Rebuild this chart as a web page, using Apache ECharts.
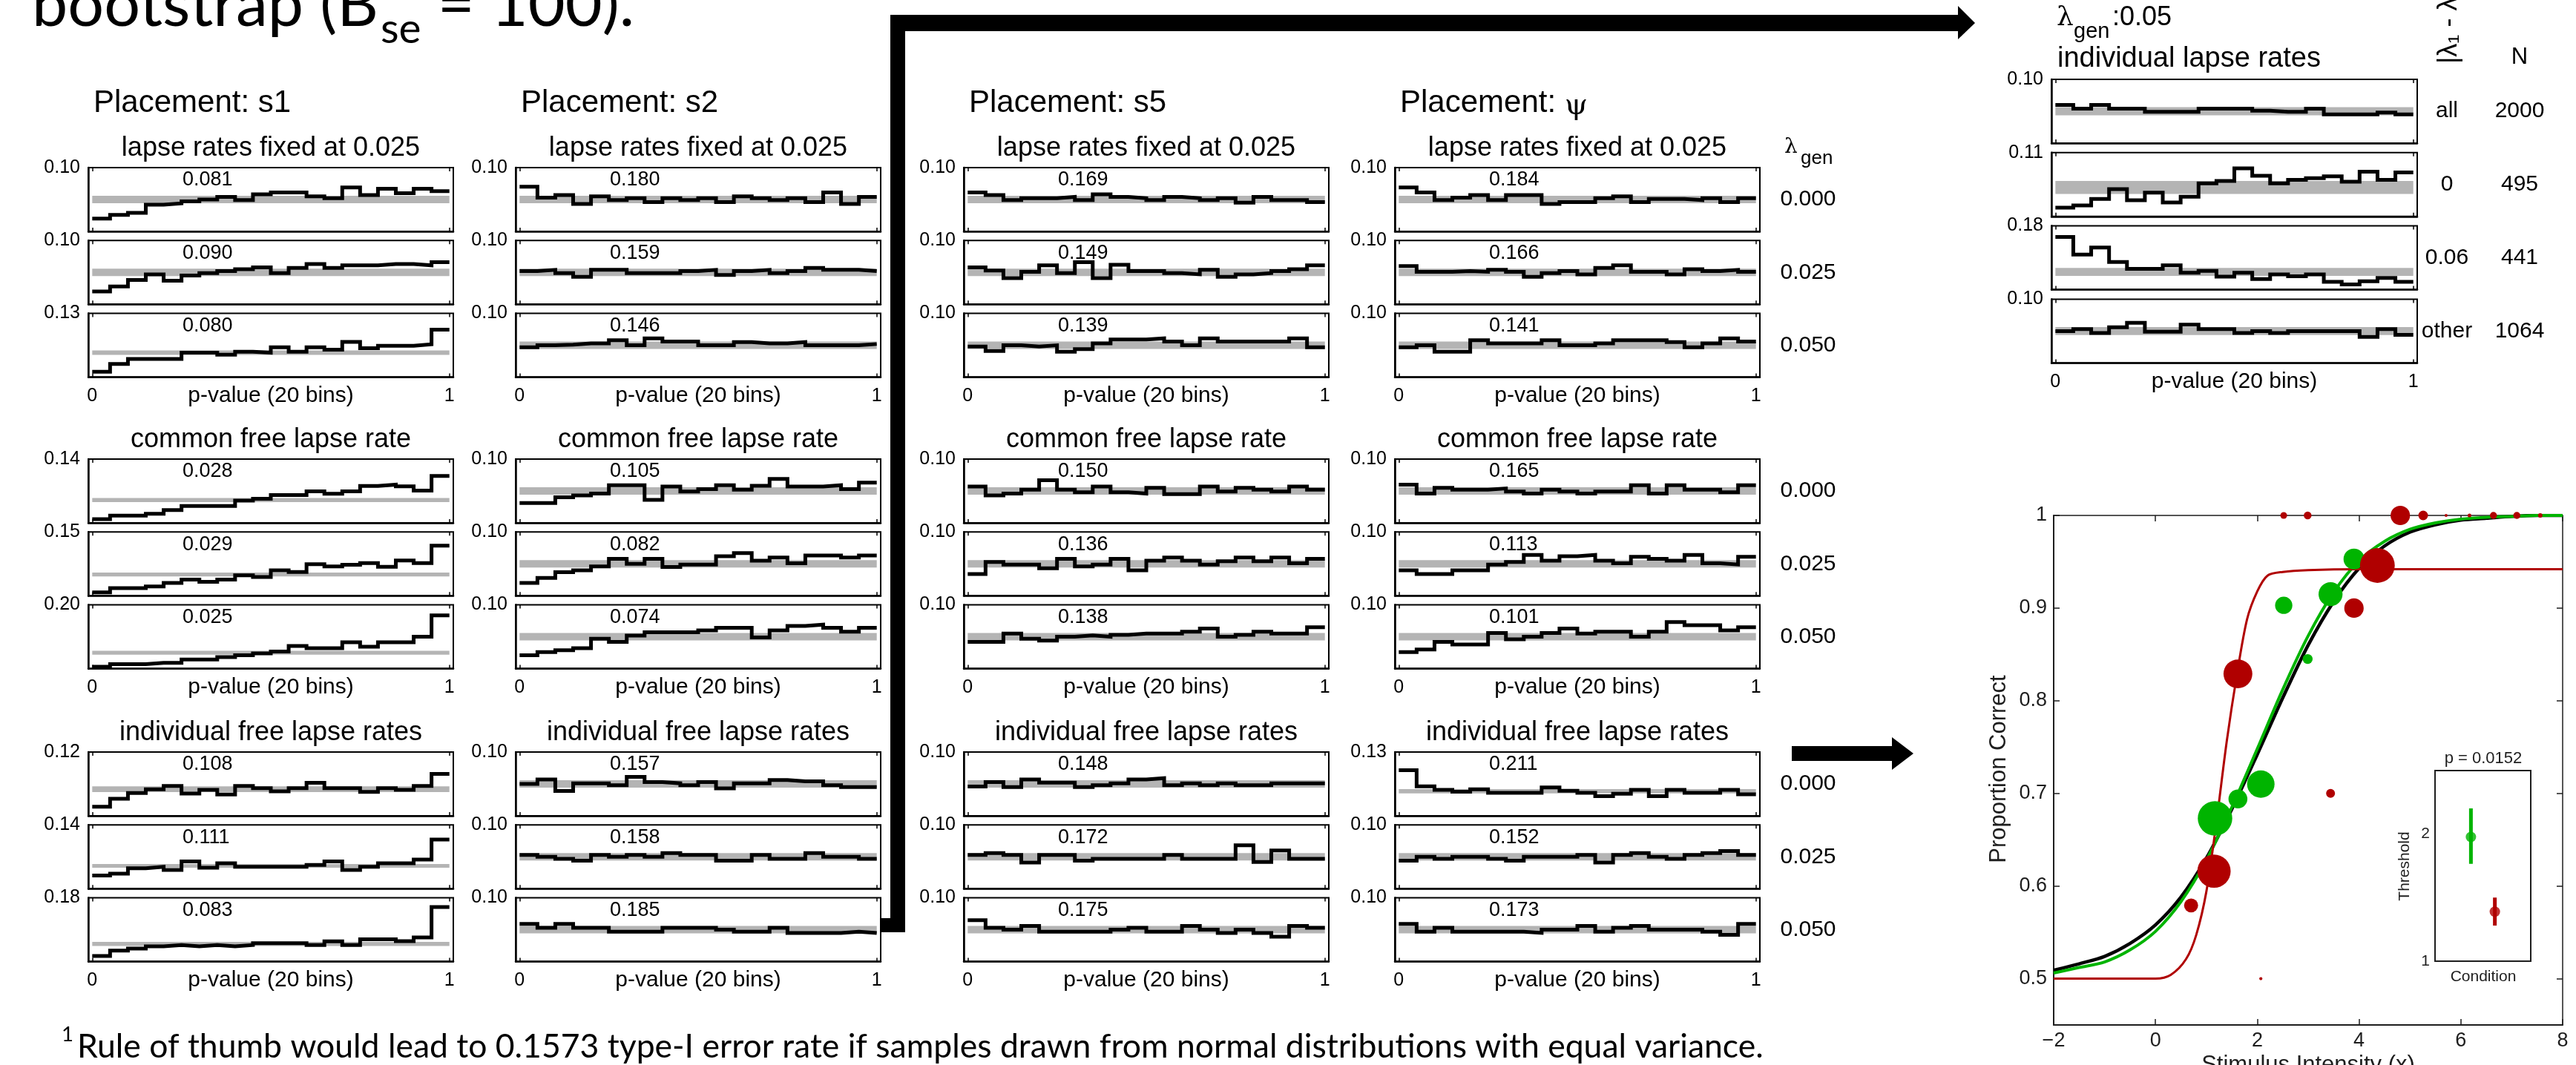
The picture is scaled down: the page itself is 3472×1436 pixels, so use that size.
<!DOCTYPE html>
<html>
<head>
<meta charset="utf-8">
<script src="https://cdn.jsdelivr.net/npm/echarts@6/dist/echarts.min.js"></script>
<style>
  html, body { margin: 0; padding: 0; background: #fff; }
  #main { width: 3472px; height: 1436px; }
</style>
</head>
<body>
<div id="main"></div>
<script>
// ---------------- data ----------------
const placements = ['s1', 's2', 's5', '\u03c8'];
const sectionTitles = ['lapse rates fixed at 0.025', 'common free lapse rate', 'individual free lapse rates'];
const lambdaGen = ['0.000', '0.025', '0.050'];
const expectedRate = 0.05; // 1/20 bins

// p-value histograms, 20 bins, rows = lambda_gen 0.000 / 0.025 / 0.050
const s1Fixed = [
  [0.020,0.026,0.029,0.042,0.044,0.047,0.050,0.054,0.049,0.058,0.061,0.061,0.055,0.052,0.069,0.057,0.067,0.060,0.067,0.063],
  [0.020,0.028,0.038,0.047,0.037,0.045,0.049,0.052,0.055,0.058,0.049,0.057,0.063,0.057,0.061,0.061,0.063,0.063,0.061,0.066],
  [0.011,0.027,0.037,0.037,0.037,0.050,0.050,0.046,0.052,0.050,0.061,0.052,0.061,0.056,0.072,0.059,0.064,0.064,0.067,0.097]
];
const s1Common = [
  [0.008,0.016,0.016,0.020,0.028,0.037,0.037,0.037,0.049,0.053,0.061,0.061,0.069,0.064,0.069,0.081,0.084,0.080,0.071,0.103],
  [0.008,0.018,0.018,0.022,0.030,0.038,0.033,0.038,0.048,0.044,0.060,0.056,0.074,0.069,0.073,0.077,0.068,0.083,0.077,0.118],
  [0.006,0.014,0.014,0.018,0.018,0.029,0.029,0.036,0.042,0.048,0.054,0.071,0.064,0.064,0.083,0.069,0.083,0.083,0.100,0.167]
];
const s1Indiv = [
  [0.017,0.032,0.043,0.050,0.056,0.042,0.049,0.040,0.056,0.052,0.046,0.052,0.062,0.052,0.052,0.045,0.052,0.049,0.056,0.079],
  [0.029,0.033,0.045,0.048,0.041,0.060,0.046,0.056,0.048,0.048,0.048,0.048,0.052,0.060,0.041,0.048,0.056,0.056,0.064,0.108],
  [0.016,0.031,0.037,0.043,0.047,0.043,0.047,0.043,0.047,0.052,0.052,0.052,0.047,0.057,0.047,0.063,0.063,0.058,0.068,0.154]
];
const s2Fixed = [
  [0.070,0.053,0.057,0.043,0.055,0.049,0.052,0.046,0.052,0.049,0.052,0.046,0.055,0.052,0.049,0.052,0.046,0.061,0.043,0.054],
  [0.052,0.054,0.049,0.043,0.054,0.054,0.049,0.049,0.049,0.052,0.054,0.046,0.052,0.054,0.049,0.052,0.057,0.054,0.054,0.052],
  [0.047,0.050,0.051,0.053,0.053,0.058,0.050,0.061,0.056,0.056,0.050,0.050,0.055,0.053,0.053,0.055,0.050,0.050,0.050,0.052]
];
const s2Common = [
  [0.031,0.031,0.040,0.043,0.046,0.059,0.059,0.036,0.057,0.049,0.053,0.059,0.052,0.058,0.069,0.057,0.057,0.059,0.053,0.063],
  [0.020,0.028,0.037,0.040,0.046,0.058,0.050,0.058,0.045,0.049,0.049,0.062,0.067,0.055,0.060,0.051,0.063,0.063,0.060,0.063],
  [0.021,0.026,0.029,0.032,0.047,0.042,0.052,0.057,0.057,0.057,0.060,0.064,0.064,0.049,0.060,0.067,0.069,0.064,0.058,0.064]
];
const s2Indiv = [
  [0.050,0.057,0.039,0.051,0.051,0.048,0.061,0.053,0.051,0.048,0.053,0.043,0.051,0.051,0.056,0.054,0.054,0.048,0.045,0.045],
  [0.053,0.050,0.047,0.044,0.053,0.050,0.053,0.050,0.056,0.053,0.053,0.044,0.044,0.053,0.047,0.047,0.056,0.050,0.050,0.047],
  [0.059,0.053,0.059,0.053,0.053,0.047,0.047,0.047,0.053,0.053,0.053,0.050,0.047,0.047,0.053,0.045,0.045,0.045,0.047,0.045]
];
const s5Fixed = [
  [0.061,0.057,0.049,0.052,0.052,0.054,0.049,0.058,0.054,0.052,0.049,0.054,0.052,0.049,0.052,0.045,0.054,0.049,0.049,0.046],
  [0.058,0.053,0.041,0.051,0.061,0.049,0.066,0.041,0.062,0.052,0.052,0.049,0.047,0.054,0.043,0.047,0.049,0.052,0.055,0.061],
  [0.048,0.041,0.050,0.048,0.050,0.040,0.044,0.053,0.059,0.059,0.061,0.056,0.050,0.061,0.056,0.056,0.056,0.056,0.061,0.047]
];
const s5Common = [
  [0.057,0.043,0.046,0.052,0.067,0.052,0.048,0.057,0.048,0.046,0.055,0.045,0.045,0.057,0.049,0.055,0.052,0.049,0.057,0.052],
  [0.034,0.053,0.049,0.049,0.043,0.058,0.046,0.049,0.058,0.040,0.055,0.060,0.055,0.049,0.054,0.060,0.054,0.060,0.051,0.058],
  [0.042,0.042,0.055,0.047,0.044,0.050,0.052,0.050,0.053,0.055,0.055,0.055,0.058,0.063,0.050,0.053,0.058,0.055,0.055,0.065]
];
const s5Indiv = [
  [0.046,0.053,0.045,0.057,0.052,0.052,0.045,0.048,0.051,0.057,0.059,0.048,0.051,0.048,0.051,0.048,0.048,0.051,0.051,0.051],
  [0.053,0.056,0.053,0.041,0.053,0.053,0.044,0.047,0.047,0.047,0.047,0.053,0.047,0.047,0.047,0.068,0.042,0.060,0.047,0.047],
  [0.065,0.053,0.050,0.056,0.047,0.047,0.047,0.047,0.050,0.053,0.047,0.047,0.056,0.050,0.045,0.050,0.045,0.039,0.056,0.053]
];
const psiFixed = [
  [0.069,0.061,0.049,0.053,0.057,0.049,0.057,0.057,0.043,0.046,0.046,0.052,0.055,0.046,0.051,0.051,0.049,0.052,0.046,0.052],
  [0.060,0.051,0.051,0.052,0.051,0.054,0.051,0.043,0.049,0.052,0.047,0.057,0.061,0.051,0.051,0.047,0.055,0.052,0.054,0.051],
  [0.047,0.050,0.040,0.040,0.058,0.053,0.053,0.053,0.058,0.050,0.050,0.053,0.058,0.058,0.058,0.055,0.047,0.053,0.061,0.056]
];
const psiCommon = [
  [0.060,0.046,0.055,0.052,0.052,0.054,0.049,0.046,0.052,0.049,0.046,0.049,0.049,0.059,0.046,0.059,0.052,0.052,0.048,0.059],
  [0.040,0.034,0.034,0.040,0.040,0.049,0.053,0.064,0.055,0.062,0.064,0.055,0.051,0.061,0.058,0.055,0.064,0.051,0.049,0.061],
  [0.026,0.030,0.042,0.038,0.038,0.056,0.046,0.050,0.056,0.063,0.055,0.058,0.058,0.050,0.058,0.073,0.068,0.068,0.060,0.065]
];
const psiIndiv = [
  [0.093,0.060,0.053,0.049,0.054,0.047,0.047,0.047,0.058,0.051,0.047,0.040,0.045,0.053,0.040,0.053,0.047,0.047,0.053,0.044],
  [0.044,0.050,0.047,0.050,0.050,0.047,0.044,0.050,0.050,0.050,0.053,0.041,0.053,0.056,0.050,0.047,0.053,0.056,0.059,0.053],
  [0.059,0.047,0.053,0.047,0.047,0.047,0.047,0.045,0.050,0.050,0.056,0.047,0.053,0.056,0.050,0.050,0.050,0.047,0.042,0.059]
];

// per column: y-axis top, type-I error rate, half width of the grey band (9 panels, section by section)
const s1Top  = [0.10,0.10,0.13, 0.14,0.15,0.20, 0.12,0.14,0.18];
const s2Top  = [0.10,0.10,0.10, 0.10,0.10,0.10, 0.10,0.10,0.10];
const s5Top  = [0.10,0.10,0.10, 0.10,0.10,0.10, 0.10,0.10,0.10];
const psiTop = [0.10,0.10,0.10, 0.10,0.10,0.10, 0.13,0.10,0.10];
const s1Rate  = ['0.081','0.090','0.080', '0.028','0.029','0.025', '0.108','0.111','0.083'];
const s2Rate  = ['0.180','0.159','0.146', '0.105','0.082','0.074', '0.157','0.158','0.185'];
const s5Rate  = ['0.169','0.149','0.139', '0.150','0.136','0.138', '0.148','0.172','0.175'];
const psiRate = ['0.184','0.166','0.141', '0.165','0.113','0.101', '0.211','0.152','0.173'];
const s1Band  = [0.0058,0.0058,0.0045, 0.0046,0.0047,0.0063, 0.0055,0.0041,0.0056];
const s2Band  = [0.0058,0.0058,0.0058, 0.0058,0.0058,0.0058, 0.0058,0.0058,0.0058];
const s5Band  = [0.0058,0.0058,0.0058, 0.0058,0.0058,0.0058, 0.0058,0.0058,0.0058];
const psiBand = [0.0058,0.0058,0.0058, 0.0058,0.0058,0.0058, 0.0043,0.0058,0.0058];

// right column: lambda_gen 0.05, individual lapse rates, split by |lambda1 - lambda2|
const subsetLabels = ['all', '0', '0.06', 'other'];
const subsetN = ['2000', '495', '441', '1064'];
const subsetTop = [0.10, 0.11, 0.18, 0.10];
const subsetBand = [0.0063, 0.0112, 0.0112, 0.0063];
const subsetHist = [
  [0.060,0.054,0.060,0.054,0.054,0.049,0.049,0.049,0.054,0.054,0.054,0.051,0.049,0.049,0.054,0.045,0.045,0.045,0.048,0.045],
  [0.015,0.019,0.030,0.047,0.028,0.041,0.024,0.034,0.057,0.061,0.083,0.070,0.057,0.063,0.066,0.069,0.060,0.077,0.063,0.076],
  [0.149,0.099,0.119,0.078,0.059,0.059,0.069,0.048,0.053,0.037,0.048,0.030,0.043,0.038,0.043,0.022,0.015,0.024,0.033,0.022],
  [0.050,0.053,0.047,0.056,0.063,0.049,0.049,0.060,0.053,0.053,0.047,0.050,0.047,0.050,0.050,0.050,0.050,0.041,0.053,0.044]
];

// psychometric functions (every 0.5 units)
const curveX     = [-2, -1.5, -1, -0.5, 0, 0.5, 1, 1.5, 2, 2.5, 3, 3.5, 4, 4.5, 5, 5.5, 6, 6.5, 7, 7.5, 8];
const curveBlack = [0.509,0.516,0.524,0.538,0.558,0.588,0.630,0.683,0.742,0.803,0.860,0.907,0.943,0.967,0.982,0.990,0.995,0.997,0.999,1.000,1.000];
const curveGreen = [0.506,0.512,0.518,0.531,0.551,0.583,0.628,0.685,0.748,0.812,0.870,0.917,0.951,0.972,0.985,0.992,0.996,0.998,0.999,1.000,1.000];
const redCurveX  = [-2, -1, 0, 0.3, 0.6, 0.8, 1.0, 1.2, 1.4, 1.6, 1.8, 2.0, 2.2, 2.5, 3, 4, 5, 6, 7, 8];
const redCurveY  = [0.5,0.5,0.5,0.504,0.521,0.547,0.594,0.670,0.756,0.828,0.888,0.918,0.935,0.939,0.941,0.942,0.942,0.942,0.942,0.942];
const greenX  = [1.17, 1.62, 2.07, 2.52, 2.99, 3.44, 3.90];
const greenPC = [0.673, 0.694, 0.710, 0.903, 0.845, 0.915, 0.953];
const greenWeight = [60, 18, 38, 15, 5, 29, 22];
const redX  = [0.70,1.15,1.62,2.07,2.52,2.99,3.44,3.90,4.36,4.81,5.26,5.71,6.17,6.64,7.10,7.56];
const redPC = [0.579,0.616,0.829,0.500,1,1,0.700,0.900,0.946,1,1,1,1,1,1,1];
const redWeight = [10,56,42,0.5,2.3,3,4,19,61,19,4.7,0.45,0.7,2.5,2.5,1];
const pcTicks = [0.5, 0.6, 0.7, 0.8, 0.9, 1];
const thrCond = [1, 2];
const thrMean = [1.978, 1.39];
const thrLo   = [1.766, 1.28];
const thrHi   = [2.203, 1.50];

// ---------------- layout ----------------
const FONT = '"Liberation Sans", Arial, Helvetica, sans-serif';
const SLIDE_FONT = 'Lato, "Open Sans", sans-serif';
const SERIF = '"DejaVu Serif", "Liberation Serif", serif';
const GREEN = '#00b400', RED = '#b00000';

const PANEL_W = 492, PANEL_H = 86, ROW_STEP = 98.3;
const colLeft = [119, 695, 1299, 1880];
const secTop = [226, 619, 1014];

const grids = [], xAxes = [], yAxes = [], series = [], graphics = [];

const measureCtx = document.createElement('canvas').getContext('2d');
function textWidth(str, size, family) {
  measureCtx.font = size + 'px ' + family;
  return measureCtx.measureText(str).width;
}
function txt(x, y, text, size, style, extra) {
  graphics.push(Object.assign({ type: 'text', x: x, y: y, silent: true,
    style: Object.assign({ text: text, fontSize: size, fontFamily: FONT, fill: '#000', align: 'left', verticalAlign: 'middle' }, style || {}) },
    extra || {}));
}

function stepData(vals) {
  const d = vals.map((v, i) => [i / vals.length, v]);
  d.push([1, vals[vals.length - 1]]);
  return d;
}

function addPanel(left, top, width, vals, ymax, band, showX) {
  const g = grids.length;
  grids.push({ left: left, top: top, width: width, height: PANEL_H, show: true,
    borderColor: '#000', borderWidth: 2, backgroundColor: 'transparent' });
  const xi = xAxes.length;
  xAxes.push({ gridIndex: g, type: 'value', min: -0.011, max: 1.011, position: 'bottom',
    axisLine: { show: true, onZero: false, lineStyle: { color: '#000', width: 2.5 } },
    axisTick: { show: true, inside: true, length: 5, customValues: [0, 1], lineStyle: { color: '#000', width: 1.5 } },
    axisLabel: { show: showX, customValues: [0, 1], margin: 13, fontSize: 25, fontFamily: FONT, color: '#000',
      formatter: v => String(v) },
    splitLine: { show: false } });
  xAxes.push({ gridIndex: g, type: 'value', min: -0.011, max: 1.011, position: 'top',
    axisLine: { show: false, onZero: false },
    axisTick: { show: true, inside: true, length: 5, customValues: [0, 1], lineStyle: { color: '#000', width: 1.5 } },
    axisLabel: { show: false }, splitLine: { show: false } });
  const yi = yAxes.length;
  yAxes.push({ gridIndex: g, type: 'value', min: 0, max: ymax,
    axisLine: { show: true, onZero: false, lineStyle: { color: '#000', width: 2.5 } },
    axisTick: { show: false },
    axisLabel: { customValues: [ymax], margin: 11, fontSize: 25, fontFamily: FONT, color: '#000',
      formatter: v => v.toFixed(2) },
    splitLine: { show: false } });
  series.push({ type: 'line', xAxisIndex: xi, yAxisIndex: yi, data: [[0, expectedRate]], silent: true,
    showSymbol: false, lineStyle: { width: 0 }, z: 1,
    markArea: { silent: true, itemStyle: { color: '#b4b4b4' }, label: { show: false },
      data: [[{ coord: [0, expectedRate - band] }, { coord: [1, expectedRate + band] }]] } });
  series.push({ type: 'line', xAxisIndex: xi, yAxisIndex: yi, data: stepData(vals), step: 'end',
    showSymbol: false, silent: true, z: 3, lineStyle: { color: '#000', width: 5, join: 'miter' } });
  if (showX) {
    txt(left + width / 2, top + PANEL_H + 25, 'p-value (20 bins)', 30, { align: 'center' });
  }
}

// main 4 x 9 grid
const histCols = [[s1Fixed, s1Common, s1Indiv], [s2Fixed, s2Common, s2Indiv],
                  [s5Fixed, s5Common, s5Indiv], [psiFixed, psiCommon, psiIndiv]];
const topCols = [s1Top, s2Top, s5Top, psiTop];
const rateCols = [s1Rate, s2Rate, s5Rate, psiRate];
const bandCols = [s1Band, s2Band, s5Band, psiBand];

for (let c = 0; c < 4; c++) {
  const left = colLeft[c];
  if (c < 3) {
    txt(left + 7, 139, 'Placement: ' + placements[c], 42);
  } else {
    graphics.push({ type: 'text', x: left + 7, y: 139, silent: true, style: {
      text: '{a|Placement: }{b|' + placements[c] + '}', verticalAlign: 'middle',
      rich: { a: { fontSize: 42, fontFamily: FONT, fill: '#000' },
              b: { fontSize: 40, fontFamily: SERIF, fill: '#000', padding: [10, 0, 0, 0] } } } });
  }
  for (let s = 0; s < 3; s++) {
    txt(left + PANEL_W / 2, secTop[s] - 26, sectionTitles[s], 36, { align: 'center' });
    for (let r = 0; r < 3; r++) {
      const k = s * 3 + r;
      const top = secTop[s] + r * ROW_STEP;
      addPanel(left, top, PANEL_W, histCols[c][s][r], topCols[c][k], bandCols[c][k], r === 2);
      txt(left + 127, top + 17, rateCols[c][k], 27);
    }
  }
}
// lambda_gen column
txt(2405, 199, '\u03bb', 28, { fontFamily: SERIF });
txt(2427, 214, 'gen', 26);
for (let s = 0; s < 3; s++) {
  for (let r = 0; r < 3; r++) {
    txt(2437, secTop[s] + r * ROW_STEP + PANEL_H / 2, lambdaGen[r], 30, { align: 'center' });
  }
}

// right column panels
const RIGHT_LEFT = 2765, RIGHT_W = 493, RIGHT_STEP = 98.8;
txt(2772, 25, '\u03bb', 36, { fontFamily: SERIF });
txt(2795, 43, 'gen', 29);
txt(2847, 24, ':0.05', 36);
txt(2773, 80, 'individual lapse rates', 38);
txt(3301, 86, '|\u03bb\u2081 - \u03bb\u2082|', 36, {}, { rotation: Math.PI / 2 });
txt(3396, 77, 'N', 31, { align: 'center' });
for (let r = 0; r < 4; r++) {
  const top = 107 + r * RIGHT_STEP;
  addPanel(RIGHT_LEFT, top, RIGHT_W, subsetHist[r], subsetTop[r], subsetBand[r], r === 3);
  txt(3298, top + PANEL_H / 2, subsetLabels[r], 30, { align: 'center' });
  txt(3396, top + PANEL_H / 2, subsetN[r], 30, { align: 'center' });
}

// psychometric plot
const PC = '#1e1e1e';
const pg = grids.length;
grids.push({ left: 2768, top: 695, width: 686, height: 687, show: true, borderColor: PC, borderWidth: 1.5, backgroundColor: 'transparent' });
const pxi = xAxes.length;
xAxes.push({ gridIndex: pg, type: 'value', min: -2, max: 8, interval: 2,
  axisLine: { show: true, onZero: false, lineStyle: { color: PC, width: 2 } },
  axisTick: { inside: true, length: 8, lineStyle: { color: PC, width: 1.5 } },
  axisLabel: { fontSize: 27, margin: 8, color: PC, fontFamily: FONT, formatter: v => v < 0 ? '\u2212' + (-v) : String(v) },
  splitLine: { show: false } });
xAxes.push({ gridIndex: pg, type: 'value', min: -2, max: 8, interval: 2, position: 'top',
  axisLine: { show: false, onZero: false }, axisTick: { inside: true, length: 8, lineStyle: { color: PC, width: 1.5 } },
  axisLabel: { show: false }, splitLine: { show: false } });
const pyi = yAxes.length;
yAxes.push({ gridIndex: pg, type: 'value', min: 0.45, max: 1,
  axisLine: { show: true, onZero: false, lineStyle: { color: PC, width: 2 } },
  axisTick: { inside: true, length: 8, customValues: pcTicks, lineStyle: { color: PC, width: 1.5 } },
  axisLabel: { customValues: pcTicks, fontSize: 27, margin: 9, color: PC, fontFamily: FONT,
    formatter: v => v === 1 ? '1' : v.toFixed(1) },
  splitLine: { show: false } });
yAxes.push({ gridIndex: pg, type: 'value', min: 0.45, max: 1, position: 'right',
  axisLine: { show: false, onZero: false }, axisTick: { inside: true, length: 8, customValues: pcTicks, lineStyle: { color: PC, width: 1.5 } },
  axisLabel: { show: false }, splitLine: { show: false } });

const zip = (xs, ys) => xs.map((x, i) => [x, ys[i]]);
series.push({ type: 'line', xAxisIndex: pxi, yAxisIndex: pyi, data: zip(curveX, curveBlack), smooth: 0.3,
  showSymbol: false, silent: true, z: 2, lineStyle: { color: '#000', width: 4.5 } });
series.push({ type: 'line', xAxisIndex: pxi, yAxisIndex: pyi, data: zip(curveX, curveGreen), smooth: 0.3,
  showSymbol: false, silent: true, z: 3, lineStyle: { color: GREEN, width: 4 } });
series.push({ type: 'line', xAxisIndex: pxi, yAxisIndex: pyi, data: zip(redCurveX, redCurveY), smooth: 0.3,
  showSymbol: false, silent: true, z: 4, lineStyle: { color: RED, width: 3 } });
series.push({ type: 'scatter', xAxisIndex: pxi, yAxisIndex: pyi, z: 5, silent: true,
  data: greenX.map((x, i) => [x, greenPC[i], greenWeight[i]]),
  symbolSize: d => 6 * Math.sqrt(d[2]), itemStyle: { color: GREEN, opacity: 1 } });
series.push({ type: 'scatter', xAxisIndex: pxi, yAxisIndex: pyi, z: 6, silent: true,
  data: redX.map((x, i) => [x, redPC[i], redWeight[i]]),
  symbolSize: d => 6 * Math.sqrt(d[2]), itemStyle: { color: RED, opacity: 1 } });

txt(2694, 1037, 'Proportion Correct', 31, { fill: PC, align: 'center' }, { rotation: Math.PI / 2 });
txt(3111, 1421, 'Stimulus Intensity (x)', 31, { fill: PC, align: 'center', verticalAlign: 'top' });

// threshold inset
const ig = grids.length;
grids.push({ left: 3282, top: 1039, width: 129, height: 257, show: true, borderColor: PC, borderWidth: 2, backgroundColor: '#fff', z: 10 });
const ixi = xAxes.length;
xAxes.push({ gridIndex: ig, type: 'value', min: -0.5, max: 3.5, axisLine: { show: true, onZero: false, lineStyle: { color: PC, width: 2 } },
  axisTick: { show: false }, axisLabel: { show: false }, splitLine: { show: false }, z: 10 });
const iyi = yAxes.length;
yAxes.push({ gridIndex: ig, type: 'value', min: 1, max: 2.5,
  axisLine: { show: true, onZero: false, lineStyle: { color: PC, width: 2 } },
  axisTick: { show: false },
  axisLabel: { customValues: [1, 2], fontSize: 21, margin: 7, color: PC, fontFamily: FONT },
  splitLine: { show: false }, z: 10 });
const thrColors = [GREEN, RED];
thrCond.forEach((c, i) => {
  series.push({ type: 'line', xAxisIndex: ixi, yAxisIndex: iyi, z: 11, silent: true, showSymbol: false,
    data: [[c, thrLo[i]], [c, thrHi[i]]], lineStyle: { color: thrColors[i], width: 5 } });
});
series.push({ type: 'scatter', xAxisIndex: ixi, yAxisIndex: iyi, z: 12, silent: true,
  data: thrCond.map((c, i) => ({ value: [c, thrMean[i]], itemStyle: { color: thrColors[i] } })),
  symbolSize: 14 });
txt(3347, 1023, 'p = 0.0152', 22, { fill: PC, align: 'center' }, { z: 20 });
txt(3241, 1168, 'Threshold', 21, { fill: PC, align: 'center' }, { rotation: Math.PI / 2, z: 20 });
txt(3347, 1317, 'Condition', 21, { fill: PC, align: 'center' }, { z: 20 });

// slide text (Calibri substitute), sized to the widths on the slide
const tMain = 'bootstrap (B', tSub = 'se', tEnd = ' = 100).';
const tSize = 100 * 467 / textWidth(tMain, 100, SLIDE_FONT);
const subSize = tSize * 0.66;
const x2 = 43 + textWidth(tMain, tSize, SLIDE_FONT) + 3;
const x3 = x2 + textWidth(tSub, subSize, SLIDE_FONT);
txt(43, 38 - 0.36 * tSize, tMain, tSize, { fontFamily: SLIDE_FONT });
txt(x2, 60 - 0.36 * subSize, tSub, subSize, { fontFamily: SLIDE_FONT });
txt(x3, 38 - 0.36 * tSize, tEnd, tSize, { fontFamily: SLIDE_FONT });
const foot = 'Rule of thumb would lead to 0.1573 type-I error rate if samples drawn from normal distributions with equal variance.';
const fSize = 100 * 2273 / textWidth(foot, 100, SLIDE_FONT);
txt(83, 1428 - 0.75 * fSize, '1', fSize * 0.62, { fontFamily: SLIDE_FONT });
txt(104, 1428 - 0.36 * fSize, foot, fSize, { fontFamily: SLIDE_FONT });

// arrows
const arrowStyle = { fill: '#000' };
graphics.push({ type: 'rect', shape: { x: 1200, y: 20, width: 1440, height: 22 }, style: arrowStyle, silent: true });
graphics.push({ type: 'polygon', shape: { points: [[2639, 8], [2662, 31], [2639, 53]] }, style: arrowStyle, silent: true });
graphics.push({ type: 'rect', shape: { x: 1200, y: 20, width: 20, height: 1237 }, style: arrowStyle, silent: true });
graphics.push({ type: 'rect', shape: { x: 1187, y: 1238, width: 33, height: 19 }, style: arrowStyle, silent: true });
graphics.push({ type: 'rect', shape: { x: 2415, y: 1006, width: 136, height: 20 }, style: arrowStyle, silent: true });
graphics.push({ type: 'polygon', shape: { points: [[2550, 994], [2579, 1016], [2550, 1038]] }, style: arrowStyle, silent: true });

const chart = echarts.init(document.getElementById('main'));
chart.setOption({
  animation: false,
  backgroundColor: '#fff',
  grid: grids,
  xAxis: xAxes,
  yAxis: yAxes,
  series: series,
  graphic: { elements: graphics }
});
</script>
</body>
</html>
